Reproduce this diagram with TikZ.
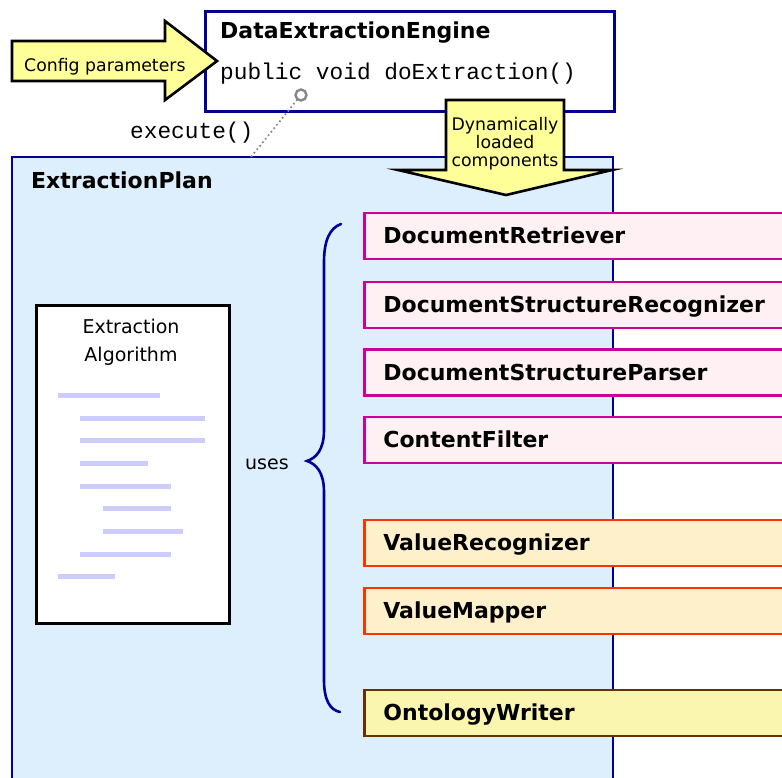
\documentclass[tikz,border=0pt]{standalone}
\usepackage{fontspec}
\setmainfont{DejaVu Sans}
\setmonofont{Liberation Mono}
\definecolor{navyc}{HTML}{000099}
\definecolor{planfill}{HTML}{DDEEFC}
\definecolor{lav}{HTML}{CCCCFF}
\definecolor{arrowy}{HTML}{FFFF99}
\definecolor{pinkfill}{HTML}{FFF0F4}
\definecolor{pinkline}{HTML}{CC0099}
\definecolor{orfill}{HTML}{FFF0CC}
\definecolor{orline}{HTML}{FF3300}
\definecolor{owfill}{HTML}{FAF6B0}
\definecolor{owline}{HTML}{663300}
\definecolor{grayc}{HTML}{888888}
\newcommand{\bfnt}{\fontsize{22}{26}\selectfont\bfseries}
\newcommand{\mfnt}{\fontsize{22.8}{26}\selectfont\ttfamily}
\newcommand{\sfnt}{\fontsize{17.3}{18}\selectfont}
\newcommand{\rfnt}{\fontsize{19}{28}\selectfont}
\begin{document}
\begin{tikzpicture}[x=1pt,y=-1pt,
  blueline/.style={draw=navyc, line width=2.8},
  bigarrow/.style={draw=black, fill=arrowy, line width=2.6, line join=miter},
  comp/.style={rectangle, anchor=west, minimum width=460, minimum height=46,
    text width=422, inner xsep=19, align=left, text height=15.5, text depth=0.5,
    font=\bfnt, line width=2.8},
  pinkcomp/.style={comp, draw=pinkline, fill=pinkfill},
  orcomp/.style={comp, draw=orline, fill=orfill},
  owcomp/.style={comp, draw=owline, fill=owfill},
  codeline/.style={draw=lav, line width=5},
  txt/.style={inner sep=0}
]
\useasboundingbox (0,0) rectangle (782,777);
\clip (0,0) rectangle (782,777);
\fill[white] (0,0) rectangle (782,777);

% Engine box
\node[rectangle, blueline, fill=white, minimum width=409, minimum height=100, anchor=north west] (engine) at (204,10) {};
\node[txt, anchor=base west, font=\bfnt] (enginetitle) at (220,38) {DataExtractionEngine};
\node[txt, anchor=base west, font=\mfnt] (method) at (220,79) {public void doExtraction()};

% Config parameters arrow
\draw[bigarrow] (12,41) -- (165,41) -- (165,21) -- (217,61) -- (165,100) -- (165,81) -- (12,81) -- cycle;
\node[txt, anchor=base west, font=\sfnt] (config) at (24,71) {Config parameters};

% Extraction plan
\draw[blueline, fill=planfill] (12,157) rectangle (613,800);
\coordinate (plantop) at (251,157);
\node[txt, anchor=base west, font=\bfnt] (plantitle) at (31,188) {ExtractionPlan};

% execute connector
\node[circle, draw=grayc, fill=white, line width=2.4, minimum size=11, inner sep=0] (dot) at (301,95) {};
\draw[grayc, line width=2.4, line cap=round, dash pattern=on 0pt off 4.5pt] (dot) -- (plantop);
\node[txt, anchor=base west, font=\mfnt] (execute) at (130,138) {execute()};

% Dynamically loaded arrow
\draw[bigarrow] (446,100) -- (564,100) -- (564,170) -- (612,170) -- (506,195) -- (398,170) -- (446,170) -- cycle;
\node[txt, anchor=base, font=\sfnt] (dyn1) at (505,130) {Dynamically};
\node[txt, anchor=base, font=\sfnt] (dyn2) at (505,148) {loaded};
\node[txt, anchor=base, font=\sfnt] (dyn3) at (505,166) {components};

% Algorithm box
\node[rectangle, draw=black, fill=white, line width=3, minimum width=193, minimum height=318, anchor=north west] (algo) at (35,304) {};
\node[txt, anchor=base, font=\rfnt] (algo1) at (131,333) {Extraction};
\node[txt, anchor=base, font=\rfnt] (algo2) at (131,361) {Algorithm};
\draw[codeline] (58,395) -- (160,395);
\draw[codeline] (80,418) -- (205,418);
\draw[codeline] (80,440) -- (205,440);
\draw[codeline] (80,463) -- (148,463);
\draw[codeline] (80,486) -- (171,486);
\draw[codeline] (103,508) -- (171,508);
\draw[codeline] (103,531) -- (183,531);
\draw[codeline] (80,554) -- (171,554);
\draw[codeline] (58,576) -- (115,576);

% uses + brace
\node[txt, anchor=base west, font=\rfnt] (uses) at (245,469) {uses};
\draw[navyc, line width=2.6, line cap=round]
  (341,224) .. controls (330,228) and (324,240) .. (324,262)
  -- (324,430) .. controls (324,450) and (316,458) .. (307,461)
  .. controls (316,464) and (324,472) .. (324,492)
  -- (324,680) .. controls (324,700) and (330,710) .. (340,712);

% Components
\node[pinkcomp] (retriever) at (363,236) {DocumentRetriever};
\node[pinkcomp] (recognizer) at (363,305) {DocumentStructureRecognizer};
\node[pinkcomp] (parser) at (363,372.5) {DocumentStructureParser};
\node[pinkcomp] (filter) at (363,440) {ContentFilter};
\node[orcomp] (valrec) at (363,543) {ValueRecognizer};
\node[orcomp] (valmap) at (363,611) {ValueMapper};
\node[owcomp] (writer) at (363,713) {OntologyWriter};
\end{tikzpicture}
\end{document}
